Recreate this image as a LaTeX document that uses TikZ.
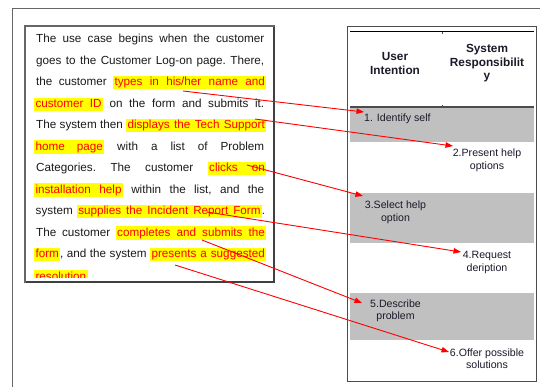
\documentclass[tikz,border=0pt]{standalone}
\usepackage{fontspec}
\setmainfont{Liberation Sans}
\usetikzlibrary{arrows.meta}
\definecolor{hlyellow}{HTML}{FFFF00}
\definecolor{hlred}{HTML}{FF0000}
\definecolor{cellgray}{HTML}{C0C0C0}
\definecolor{bodytext}{HTML}{1A1A1A}
\definecolor{celltext}{HTML}{1A1A2A}
\newcommand{\hlstrut}{\rule[-2.2pt]{0pt}{10.4pt}}
\newcommand{\hlw}[2]{{\setlength{\fboxsep}{1.3pt}\colorbox{hlyellow}{\makebox[\dimexpr#1pt-2.6pt\relax][s]{\hlstrut\color{hlred}#2}}}}
\newcommand{\hln}[1]{{\setlength{\fboxsep}{1.3pt}\colorbox{hlyellow}{\hlstrut\color{hlred}#1}}}
\newcommand{\bline}[1]{\hbox to 232pt{#1}}
\tikzset{
  bodyline/.style={anchor=base west, inner sep=0pt, text=bodytext,
    font=\fontsize{11.7}{21.5}\selectfont\frenchspacing},
  celltxt/.style={inner sep=0pt, text=celltext, align=center,
    font=\fontsize{10.6}{12.7}\selectfont},
  headtxt/.style={inner sep=0pt, text=celltext, align=center,
    font=\fontsize{11.8}{13.8}\selectfont\bfseries},
  link/.style={draw=hlred, line width=0.9pt, -{Triangle[length=7.5pt,width=5.5pt]}},
  frameline/.style={draw=black!60, line width=0.9pt}
}
\begin{document}
\begin{tikzpicture}[x=1pt,y=-1pt]
\useasboundingbox (0,0) rectangle (540,386);
\fill[white] (0,0) rectangle (540,386);
% outer frame
\draw[frameline] (12,390) -- (12,8) -- (545,8);

% table
\fill[cellgray] (350,107) rectangle (534,142);
\fill[cellgray] (350,193) rectangle (534,243);
\fill[cellgray] (350,293) rectangle (534,340);
\draw[draw=black!70, line width=0.9pt] (347,26) rectangle (536,381);
\draw[black, line width=1.2pt] (350,31.5) -- (534,31.5);
\draw[black!70, line width=1.4pt] (350,107) -- (534,107);
\draw[black!70, line width=0.8pt] (442,31.5) -- (442,34) (442,107) -- (442,104.5);

\node[headtxt] (h1) at (395,63.5) {User\\Intention};
\node[headtxt] (h2) at (487,63.3) {System\\Responsibilit\\y};
\node[celltxt, anchor=west] (c1) at (364,118.7) {1. Identify self};
\node[celltxt] (c2) at (487,160.5) {2.Present help\\options};
\node[celltxt] (c3) at (395.5,212) {3.Select help\\option};
\node[celltxt] (c4) at (487,262.5) {4.Request\\deription};
\node[celltxt] (c5) at (395.5,310.8) {5.Describe\\problem};
\node[celltxt] (c6) at (487,358.8) {6.Offer possible\\solutions};

% text box
\begin{scope}
\clip (25,26) rectangle (274,277.8);
\node[bodyline] (l1) at (34,42.5) {\bline{\hspace*{2pt}The use case begins when the customer\hspace*{2pt}}};
\node[bodyline] (l2) at (34,64) {\bline{\hspace*{2pt}goes to the Customer Log-on page. There,\hspace*{2pt}}};
\node[bodyline] (l3) at (34,85.5) {\bline{\hspace*{2pt}the customer \hlw{153}{types in his/her name and}}};
\node[bodyline] (l4) at (34,107) {\bline{\hlw{68.7}{customer ID} on the form and submits it.\hspace*{2pt}}};
\node[bodyline] (l5) at (34,128.5) {\bline{\hspace*{2pt}The system then \hlw{140}{displays the Tech Support}}};
\node[bodyline] (l6) at (34,150) {\bline{\hlw{70}{home page} with a list of Problem\hspace*{2pt}}};
\node[bodyline] (l7) at (34,171.5) {\bline{\hspace*{2pt}Categories. The customer \hlw{58.3}{clicks on}}};
\node[bodyline] (l8) at (34,193) {\bline{\hlw{88.7}{installation help} within the list, and the\hspace*{2pt}}};
\node[bodyline] (l9) at (34,214.5) {\bline{\hspace*{1.5pt}system \hlw{185}{supplies the Incident Report Form}.\hspace*{1pt}}};
\node[bodyline] (l10) at (34,236) {\bline{\hspace*{2pt}The customer \hlw{150.3}{completes and submits the}}};
\node[bodyline] (l11) at (34,257.5) {\bline{\hln{form}, and the system \hlw{116}{presents a suggested}}};
\node[bodyline] (l12) at (34,280) {\hln{resolution}};
\end{scope}
\draw[draw=black!60, line width=1.1pt] (25,26) rectangle (274,282);
\draw[draw=black!75, line width=1.4pt] (274,26.5) -- (274,282) -- (25.5,282);

% connectors
\coordinate (s1) at (183,91);   \coordinate (e1) at (364,112);
\coordinate (s2) at (255,119);  \coordinate (e2) at (453,146);
\coordinate (s3) at (247,165);  \coordinate (e3) at (363,196);
\coordinate (s4) at (207,212);  \coordinate (e4) at (461,252);
\coordinate (s5) at (202,240);  \coordinate (e5) at (362,303);
\coordinate (s6) at (175,265);  \coordinate (e6) at (449,352);
\draw[link] (s1) -- (e1);
\draw[link] (s2) -- (e2);
\draw[link] (s3) -- (e3);
\draw[link] (s4) -- (e4);
\draw[link] (s5) -- (e5);
\draw[link] (s6) -- (e6);
\end{tikzpicture}
\end{document}
